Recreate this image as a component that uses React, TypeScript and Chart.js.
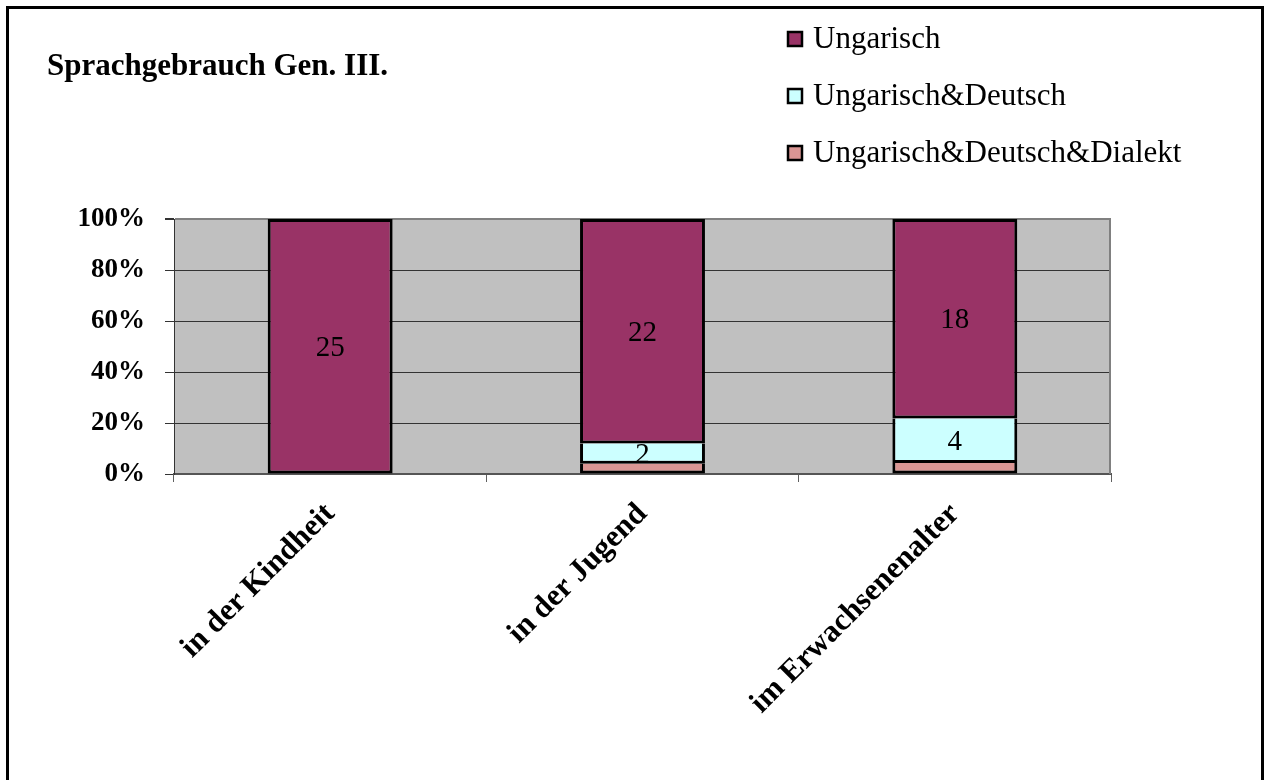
import React, { useEffect, useRef } from "react";
import { Chart, registerables } from "chart.js";

Chart.register(...registerables);

const categories = ["in der Kindheit", "in der Jugend", "im Erwachsenenalter"];
const seriesNames = ["Ungarisch", "Ungarisch&Deutsch", "Ungarisch&Deutsch&Dialekt"];
const ungarisch = [25, 22, 18];
const ungarischDeutsch = [0, 2, 4];
const ungarischDeutschDialekt = [0, 1, 1];
const seriesColors = ["#993366", "#CCFFFF", "#DA9694"];
const yTicks = [0, 20, 40, 60, 80, 100];
const titleText = "Sprachgebrauch Gen. III.";

const FONT = "'Liberation Serif', 'Times New Roman', serif";

export default function App() {
  const ref = useRef<HTMLCanvasElement | null>(null);

  useEffect(() => {
    const canvas = ref.current;
    if (!canvas) return;
    const totals = categories.map(
      (_, i) => ungarisch[i] + ungarischDeutsch[i] + ungarischDeutschDialekt[i]
    );
    const pct = (arr: number[]) => arr.map((v, i) => (v / totals[i]) * 100);
    const counts = [ungarischDeutschDialekt, ungarischDeutsch, ungarisch];

    const bgPlugin = {
      id: "bgPlugin",
      beforeDraw(chart: any) {
        const { ctx, chartArea: a } = chart;
        ctx.save();
        ctx.fillStyle = "#C0C0C0";
        ctx.fillRect(a.left, a.top, a.right - a.left, a.bottom - a.top);
        ctx.restore();
      },
      beforeDatasetsDraw(chart: any) {
        const { ctx, chartArea: a } = chart;
        ctx.save();
        ctx.strokeStyle = "#808080";
        ctx.lineWidth = 2;
        ctx.beginPath();
        ctx.moveTo(a.right - 1, a.top);
        ctx.lineTo(a.right - 1, a.bottom);
        ctx.stroke();
        ctx.restore();
      },
      afterDatasetsDraw(chart: any) {
        const { ctx } = chart;
        ctx.save();
        ctx.font = `29px ${FONT}`;
        ctx.fillStyle = "#000";
        ctx.textAlign = "center";
        ctx.textBaseline = "middle";
        chart.data.datasets.forEach((ds: any, di: number) => {
          const meta = chart.getDatasetMeta(di);
          meta.data.forEach((el: any, i: number) => {
            const c = counts[di][i];
            if (c < 2) return;
            const y = (el.y + el.base) / 2;
            ctx.fillText(String(c), el.x, y + 2);
          });
        });
        ctx.restore();
      },
      afterDraw(chart: any) {
        const { ctx } = chart;
        ctx.save();
        ctx.fillStyle = "#000";
        ctx.textAlign = "left";
        ctx.textBaseline = "alphabetic";
        ctx.font = `bold 31px ${FONT}`;
        ctx.fillText(titleText, 47, 75);
        ctx.font = `31px ${FONT}`;
        const baselines = [48, 105, 162];
        seriesNames.forEach((name, i) => {
          const b = baselines[i];
          ctx.fillStyle = seriesColors[i];
          ctx.fillRect(788, b - 16, 14, 14);
          ctx.strokeStyle = "#000";
          ctx.lineWidth = 2.5;
          ctx.strokeRect(788, b - 16, 14, 14);
          ctx.fillStyle = "#000";
          ctx.fillText(name, 813, b);
        });
        ctx.restore();
      },
    };

    const chart = new Chart(canvas, {
      type: "bar",
      data: {
        labels: categories,
        datasets: [
          {
            label: seriesNames[2],
            data: pct(ungarischDeutschDialekt),
            backgroundColor: seriesColors[2],
            borderSkipped: "top",
          },
          {
            label: seriesNames[1],
            data: pct(ungarischDeutsch),
            backgroundColor: seriesColors[1],
            borderSkipped: "top",
          },
          {
            label: seriesNames[0],
            data: pct(ungarisch),
            backgroundColor: seriesColors[0],
            borderSkipped: false,
          },
        ].map((d) => ({
          ...d,
          borderColor: "#000",
          borderWidth: 3,
          barPercentage: 0.4,
          categoryPercentage: 1,
        })) as any,
      },
      options: {
        animation: false,
        responsive: false,
        devicePixelRatio: 1,
        layout: { padding: { left: 0, right: 158, top: 219, bottom: 0 } },
        plugins: {
          legend: { display: false },
          title: { display: false },
          tooltip: { enabled: false },
        },
        scales: {
          x: {
            stacked: true,
            afterFit(scale: any) {
              scale.height = 306;
            },
            grid: {
              offset: true,
              drawOnChartArea: false,
              drawTicks: true,
              tickLength: 8,
              tickColor: "#606060",
              tickWidth: 1,
            },
            border: { color: "#555555", width: 2 },
            ticks: {
              autoSkip: false,
              minRotation: 45,
              maxRotation: 45,
              padding: 14,
              color: "#000",
              font: { family: FONT, size: 31, weight: "bold" },
            },
          },
          y: {
            stacked: true,
            min: 0,
            max: 100,
            afterFit(scale: any) {
              scale.width = 174;
            },
            afterBuildTicks(scale: any) {
              scale.ticks = yTicks.map((v) => ({ value: v }));
            },
            grid: {
              color: (c: any) => (c.tick && c.tick.value === 100 ? "#808080" : "#333333"),
              lineWidth: (c: any) => (c.tick && c.tick.value === 100 ? 2 : 1),
              tickColor: "#333333",
              tickLength: 9,
              drawTicks: true,
            },
            border: { color: "#333333", width: 1 },
            ticks: {
              padding: 20,
              color: "#000",
              font: { family: FONT, size: 27, weight: "bold" },
              callback: (v: any) => `${v}%`,
            },
          },
        },
      },
      plugins: [bgPlugin],
    });
    return () => chart.destroy();
  }, []);

  return (
    <>
      <div
        style={{
          position: "absolute",
          left: 6,
          top: 6,
          width: 1258,
          height: 774,
          border: "3px solid #000",
          borderBottom: "none",
          boxSizing: "border-box",
          background: "#fff",
        }}
      />
      <canvas
        ref={ref}
        width={1269}
        height={780}
        style={{ position: "absolute", left: 0, top: 0, width: 1269, height: 780 }}
      />
    </>
  );
}
